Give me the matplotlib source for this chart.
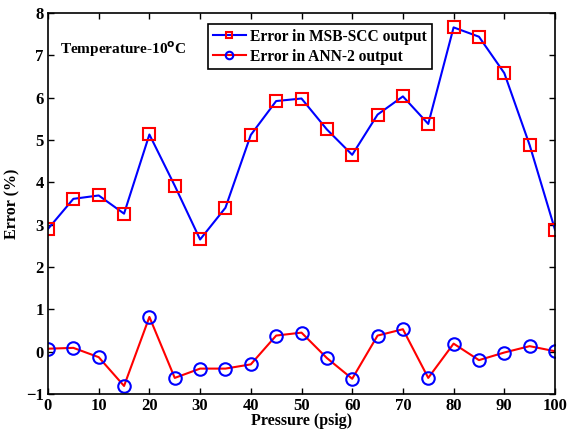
import numpy as np
import matplotlib.pyplot as plt

pressure = [0, 5, 10, 15, 20, 25, 30, 35, 40, 45, 50, 55, 60, 65, 70, 75, 80, 85, 90, 95, 100]
msb_scc = [2.9, 3.61, 3.69, 3.26, 5.13, 3.92, 2.65, 3.4, 5.12, 5.92, 5.98, 5.25,
           4.65, 5.6, 6.03, 5.38, 7.66, 7.44, 6.58, 4.88, 2.88]
ann2 = [0.07, 0.09, -0.13, -0.81, 0.82, -0.62, -0.4, -0.4, -0.3, 0.38, 0.45, -0.15,
        -0.64, 0.38, 0.53, -0.62, 0.19, -0.2, -0.02, 0.13, 0.01]

plt.rcParams['font.family'] = ['Liberation Serif', 'DejaVu Serif']
plt.rcParams['font.weight'] = 'bold'

fig = plt.figure(figsize=(5.67, 4.36), dpi=100)
ax = fig.add_axes([48 / 567, 1 - 394 / 436, 507 / 567, 381 / 436])

ax.plot(pressure, msb_scc, '-', color='blue', lw=1.5, marker='s', ms=8,
        mfc='none', mec='red', mew=1.5, label='Error in MSB-SCC output')
ax.plot(pressure, ann2, '-', color='red', lw=1.5, marker='o', ms=9,
        mfc='none', mec='blue', mew=1.5, label='Error in ANN-2 output')

ax.set_xlim(0, 100)
ax.set_ylim(-1, 8)
ax.set_xticks(np.arange(0, 101, 10))
ax.set_yticks(np.arange(-1, 9, 1))
ax.tick_params(direction='in', top=True, right=True, labelsize=12, width=1, length=4, pad=3)
for s in ax.spines.values():
    s.set_linewidth(1.2)

ax.set_xlabel('Pressure (psig)', fontsize=11.5, fontweight='bold', labelpad=-1)
ax.set_ylabel('Error (%)', fontsize=11.5, fontweight='bold', labelpad=4)

ax.text(0.024, 0.905, 'Temperature-10$^{\\mathbf{o}}$C', transform=ax.transAxes,
        fontsize=11, fontweight='bold', va='center')

leg = ax.legend(loc='upper left', bbox_to_anchor=(0.316, 0.971), fontsize=11.2,
                fancybox=False, edgecolor='black', framealpha=1, markerscale=0.6,
                borderpad=0.3, handlelength=2.1, handletextpad=0.3,
                labelspacing=0.25, borderaxespad=0)
leg.get_frame().set_linewidth(1.2)

fig.savefig('out.png', dpi=100)
